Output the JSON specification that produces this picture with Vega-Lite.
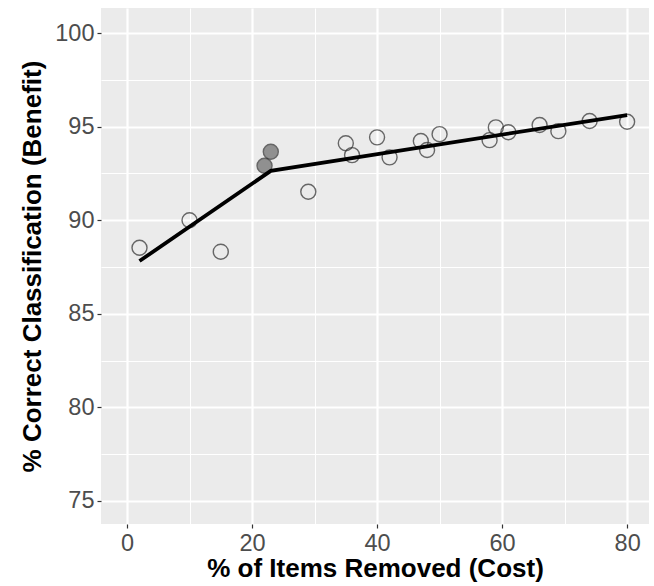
{
  "$schema": "https://vega.github.io/schema/vega-lite/v6.json",
  "width": 548,
  "height": 516,
  "autosize": "none",
  "padding": {"left": 101, "top": 8, "right": 5, "bottom": 62},
  "background": "white",
  "config": {
    "view": {"fill": "#EBEBEB", "stroke": null},
    "axis": {
      "domain": false,
      "grid": true,
      "gridColor": "white",
      "gridWidth": 2.2,
      "tickColor": "#333333",
      "tickSize": 4,
      "tickWidth": 1.2,
      "labelColor": "#4D4D4D",
      "labelFont": "Liberation Sans",
      "labelFontSize": 23.5,
      "labelFontWeight": "normal",
      "titleFont": "Liberation Sans",
      "titleFontSize": 26,
      "titleFontWeight": "bold",
      "titleColor": "black"
    }
  },
  "datasets": {
    "pts": [
      {"cost": 2, "benefit": 88.53, "group": "open"},
      {"cost": 10, "benefit": 90.0, "group": "open"},
      {"cost": 15, "benefit": 88.32, "group": "open"},
      {"cost": 22, "benefit": 92.91, "group": "filled"},
      {"cost": 23, "benefit": 93.66, "group": "filled"},
      {"cost": 29, "benefit": 91.52, "group": "open"},
      {"cost": 35, "benefit": 94.11, "group": "open"},
      {"cost": 36, "benefit": 93.48, "group": "open"},
      {"cost": 40, "benefit": 94.43, "group": "open"},
      {"cost": 42, "benefit": 93.36, "group": "open"},
      {"cost": 47, "benefit": 94.23, "group": "open"},
      {"cost": 48, "benefit": 93.75, "group": "open"},
      {"cost": 50, "benefit": 94.6, "group": "open"},
      {"cost": 58, "benefit": 94.28, "group": "open"},
      {"cost": 59, "benefit": 94.96, "group": "open"},
      {"cost": 61, "benefit": 94.7, "group": "open"},
      {"cost": 66, "benefit": 95.09, "group": "open"},
      {"cost": 69, "benefit": 94.76, "group": "open"},
      {"cost": 74, "benefit": 95.3, "group": "open"},
      {"cost": 80, "benefit": 95.26, "group": "open"}
    ],
    "fit": [
      {"cost": 2, "benefit": 87.82},
      {"cost": 23, "benefit": 92.64},
      {"cost": 80, "benefit": 95.62}
    ],
    "minor": [{"cost": 0, "benefit": 90}]
  },
  "resolve": {"axis": {"x": "independent", "y": "independent"}},
  "layer": [
    {
      "data": {"name": "minor"},
      "mark": {"type": "point", "opacity": 0},
      "encoding": {
        "x": {"field": "cost", "type": "quantitative",
          "scale": {"domain": [-4.16, 83.5], "nice": false, "zero": false},
          "axis": {"values": [10, 30, 50, 70], "grid": true, "gridWidth": 1, "labels": false, "ticks": false, "title": null, "orient": "bottom"}},
        "y": {"field": "benefit", "type": "quantitative",
          "scale": {"domain": [73.77, 101.34], "nice": false, "zero": false},
          "axis": {"values": [77.5, 82.5, 87.5, 92.5, 97.5], "grid": true, "gridWidth": 1, "labels": false, "ticks": false, "title": null, "orient": "left"}}
      }
    },
    {
      "data": {"name": "pts"},
      "mark": {"type": "point", "shape": "circle", "filled": true, "size": 225, "stroke": "#2E2E2E", "strokeWidth": 1.4},
      "encoding": {
        "x": {"field": "cost", "type": "quantitative",
          "axis": {"values": [0, 20, 40, 60, 80], "grid": true, "gridWidth": 2.2, "gridColor": "white", "title": "% of Items Removed (Cost)", "labelPadding": 3, "titlePadding": 1, "orient": "bottom"}},
        "y": {"field": "benefit", "type": "quantitative",
          "axis": {"values": [75, 80, 85, 90, 95, 100], "grid": true, "gridWidth": 2.2, "gridColor": "white", "title": "% Correct Classification (Benefit)", "labelPadding": 3, "titlePadding": 9, "orient": "left"}},
        "fill": {"field": "group", "type": "nominal",
          "scale": {"domain": ["open", "filled"], "range": ["transparent", "#6A6A6A"]},
          "legend": null}
      }
    },
    {
      "data": {"name": "fit"},
      "mark": {"type": "line", "color": "black", "strokeWidth": 3.8},
      "encoding": {
        "x": {"field": "cost", "type": "quantitative", "axis": null},
        "y": {"field": "benefit", "type": "quantitative", "axis": null}
      }
    }
  ]
}
